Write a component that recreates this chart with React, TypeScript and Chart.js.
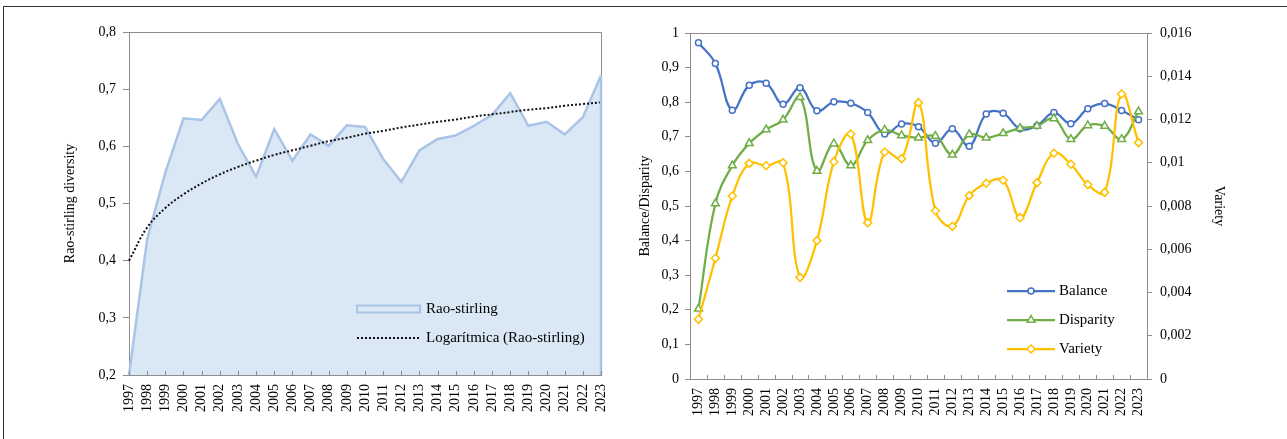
import React, { useEffect, useRef } from 'react';
import { Chart, registerables } from 'chart.js';

Chart.register(...registerables);

const years = ['1997','1998','1999','2000','2001','2002','2003','2004','2005','2006','2007','2008','2009','2010','2011','2012','2013','2014','2015','2016','2017','2018','2019','2020','2021','2022','2023'];

const raoStirling = [0.200, 0.437, 0.554, 0.649, 0.646, 0.683, 0.604, 0.547, 0.630, 0.575, 0.621, 0.601, 0.637, 0.634, 0.578, 0.538, 0.593, 0.613, 0.619, 0.636, 0.655, 0.693, 0.636, 0.643, 0.621, 0.651, 0.724];
const raoTrend = [0.400, 0.458, 0.492, 0.516, 0.535, 0.551, 0.564, 0.575, 0.585, 0.593, 0.601, 0.609, 0.615, 0.622, 0.627, 0.633, 0.638, 0.643, 0.647, 0.652, 0.656, 0.660, 0.664, 0.667, 0.671, 0.674, 0.677];

const balance = [0.972, 0.912, 0.777, 0.849, 0.855, 0.794, 0.842, 0.775, 0.801, 0.797, 0.770, 0.708, 0.737, 0.729, 0.681, 0.723, 0.673, 0.766, 0.768, 0.723, 0.732, 0.770, 0.738, 0.781, 0.796, 0.776, 0.749];
const disparity = [0.203, 0.507, 0.617, 0.681, 0.721, 0.749, 0.814, 0.601, 0.680, 0.617, 0.690, 0.720, 0.704, 0.697, 0.702, 0.648, 0.707, 0.697, 0.710, 0.725, 0.731, 0.753, 0.693, 0.733, 0.731, 0.693, 0.773];
const variety = [0.00276, 0.00558, 0.00846, 0.00997, 0.00986, 0.01000, 0.00470, 0.00640, 0.01005, 0.01133, 0.00723, 0.01050, 0.01019, 0.01278, 0.00778, 0.00706, 0.00848, 0.00905, 0.00919, 0.00746, 0.00908, 0.01044, 0.00993, 0.00899, 0.00863, 0.01318, 0.01093];

const FONT = 'Liberation Serif';
const AXIS = '#8c8c8c';
const fmt = (v: number) => String(parseFloat(Number(v).toFixed(4))).replace('.', ',');

function marker(ctx: CanvasRenderingContext2D, style: string, x: number, y: number, r: number) {
  ctx.beginPath();
  if (style === 'circle') {
    ctx.arc(x, y, r, 0, Math.PI * 2);
  } else if (style === 'triangle') {
    let rad = 0;
    ctx.moveTo(x + Math.sin(rad) * r, y - Math.cos(rad) * r);
    rad += (2 * Math.PI) / 3;
    ctx.lineTo(x + Math.sin(rad) * r, y - Math.cos(rad) * r);
    rad += (2 * Math.PI) / 3;
    ctx.lineTo(x + Math.sin(rad) * r, y - Math.cos(rad) * r);
    ctx.closePath();
  } else {
    ctx.moveTo(x, y - r);
    ctx.lineTo(x + r, y);
    ctx.lineTo(x, y + r);
    ctx.lineTo(x - r, y);
    ctx.closePath();
  }
  ctx.fillStyle = '#fff';
  ctx.fill();
  ctx.stroke();
}

const leftDecor = {
  id: 'leftDecor',
  afterDraw(chart: any) {
    const { ctx, chartArea: a } = chart;
    ctx.save();
    // right vertical edge of area
    const meta = chart.getDatasetMeta(0);
    const last = meta.data[meta.data.length - 1];
    // frame top & right
    ctx.strokeStyle = AXIS;
    ctx.lineWidth = 1;
    ctx.beginPath();
    ctx.moveTo(a.left, a.top + 0.5);
    ctx.lineTo(a.right + 0.5, a.top + 0.5);
    ctx.lineTo(a.right + 0.5, last.y);
    ctx.stroke();
    ctx.strokeStyle = '#A9C4E6';
    ctx.lineWidth = 2.5;
    ctx.beginPath();
    ctx.moveTo(last.x, last.y);
    ctx.lineTo(last.x, a.bottom);
    ctx.stroke();
    // inner x ticks
    const xs = chart.scales.x;
    ctx.strokeStyle = AXIS;
    ctx.lineWidth = 1;
    ctx.beginPath();
    for (let i = 0; i < years.length; i++) {
      const x = Math.round(xs.getPixelForValue(i)) + 0.5;
      ctx.moveTo(x, a.bottom);
      ctx.lineTo(x, a.bottom - 4);
    }
    ctx.stroke();
    // legend
    const lx = a.left + 228;
    const ly = a.top + 273.5;
    ctx.fillStyle = '#DAE8F5';
    ctx.fillRect(lx, ly, 63, 7);
    ctx.strokeStyle = '#A9C4E6';
    ctx.lineWidth = 2;
    ctx.strokeRect(lx, ly, 63, 7);
    ctx.strokeStyle = '#111';
    ctx.lineWidth = 2;
    ctx.setLineDash([2, 2]);
    ctx.beginPath();
    ctx.moveTo(lx, a.top + 306);
    ctx.lineTo(lx + 63, a.top + 306);
    ctx.stroke();
    ctx.setLineDash([]);
    ctx.fillStyle = '#000';
    ctx.font = `15px "${FONT}"`;
    ctx.textBaseline = 'middle';
    ctx.textAlign = 'left';
    ctx.fillText('Rao-stirling', a.left + 297, a.top + 277);
    ctx.fillText('Logarítmica (Rao-stirling)', a.left + 297, a.top + 306);
    ctx.restore();
  },
};

const rightDecor = {
  id: 'rightDecor',
  afterDraw(chart: any) {
    const { ctx, chartArea: a } = chart;
    ctx.save();
    ctx.strokeStyle = AXIS;
    ctx.lineWidth = 1;
    ctx.beginPath();
    ctx.moveTo(a.left, a.top + 0.5);
    ctx.lineTo(a.right, a.top + 0.5);
    const n = years.length;
    const w = (a.right - a.left) / n;
    for (let k = 1; k < n; k++) {
      const x = Math.round(a.left + k * w) + 0.5;
      ctx.moveTo(x, a.bottom);
      ctx.lineTo(x, a.bottom - 4);
    }
    ctx.stroke();
    // legend
    const items = [
      { t: 'Balance', c: '#4472C4', s: 'circle', r: 3 },
      { t: 'Disparity', c: '#70AD47', s: 'triangle', r: 4.5 },
      { t: 'Variety', c: '#FFC000', s: 'rectRot', r: 4 },
    ];
    ctx.font = `15px "${FONT}"`;
    ctx.textBaseline = 'middle';
    ctx.textAlign = 'left';
    items.forEach((it, i) => {
      const y = a.top + 258 + i * 29;
      ctx.strokeStyle = it.c;
      ctx.lineWidth = 2.25;
      ctx.beginPath();
      ctx.moveTo(a.left + 317, y);
      ctx.lineTo(a.left + 365, y);
      ctx.stroke();
      ctx.lineWidth = 1.5;
      marker(ctx, it.s, a.left + 341, y, it.r);
      ctx.fillStyle = '#000';
      ctx.fillText(it.t, a.left + 369, y);
    });
    ctx.restore();
  },
};

const tickFont = { family: FONT, size: 14 };
const titleFont = { family: FONT, size: 14 };

function LeftChart() {
  const ref = useRef<HTMLCanvasElement>(null);
  useEffect(() => {
    const chart = new Chart(ref.current as HTMLCanvasElement, {
      type: 'line',
      data: {
        labels: years,
        datasets: [
          {
            label: 'Rao-stirling',
            data: raoStirling,
            borderColor: '#A9C4E6',
            backgroundColor: '#DAE8F5',
            fill: 'start',
            borderWidth: 2.5,
            pointRadius: 0,
            tension: 0,
            order: 2,
          },
          {
            label: 'Logarítmica (Rao-stirling)',
            data: raoTrend,
            borderColor: '#111',
            borderDash: [2, 2],
            borderWidth: 2,
            pointRadius: 0,
            fill: false,
            tension: 0.4,
            order: 1,
          },
        ],
      },
      options: {
        responsive: false,
        animation: false,
        layout: { padding: { left: 58, top: 32, right: 39, bottom: 0 } },
        plugins: { legend: { display: false }, tooltip: { enabled: false } },
        scales: {
          x: {
            z: 1,
            offset: false,
            grid: { display: true, drawOnChartArea: false, drawTicks: false },
            border: { color: AXIS },
            ticks: { autoSkip: false, minRotation: 90, maxRotation: 90, padding: 9, color: '#000', font: tickFont },
            afterFit: (s: any) => { s.height = 64; },
          },
          y: {
            z: 1,
            min: 0.2,
            max: 0.8,
            grid: { drawOnChartArea: false, tickLength: 6, color: AXIS },
            border: { color: AXIS },
            ticks: { stepSize: 0.1, padding: 7, color: '#000', font: tickFont, callback: (v: any) => fmt(v) },
            title: { display: true, text: 'Rao-stirling diversity', color: '#000', font: titleFont },
            afterFit: (s: any) => { s.width = 71; },
          },
        },
      },
      plugins: [leftDecor],
    } as any);
    return () => chart.destroy();
  }, []);
  return <canvas ref={ref} width={640} height={439} style={{ position: 'absolute', left: 0, top: 0, width: 640, height: 439 }} />;
}

function RightChart() {
  const ref = useRef<HTMLCanvasElement>(null);
  useEffect(() => {
    const common = { borderWidth: 2.25, pointBorderWidth: 1.5, pointBackgroundColor: '#fff', tension: 0.4, fill: false };
    const chart = new Chart(ref.current as HTMLCanvasElement, {
      type: 'line',
      data: {
        labels: years,
        datasets: [
          { ...common, label: 'Balance', data: balance, yAxisID: 'y', borderColor: '#4472C4', pointBorderColor: '#4472C4', pointStyle: 'circle', pointRadius: 3, order: 2 },
          { ...common, label: 'Disparity', data: disparity, yAxisID: 'y', borderColor: '#70AD47', pointBorderColor: '#70AD47', pointStyle: 'triangle', pointRadius: 4.5, order: 1 },
          { ...common, label: 'Variety', data: variety, yAxisID: 'y1', borderColor: '#FFC000', pointBorderColor: '#FFC000', pointStyle: 'rectRot', pointRadius: 4, order: 0 },
        ],
      },
      options: {
        responsive: false,
        animation: false,
        layout: { padding: { left: 8, top: 33, right: 56, bottom: 0 } },
        plugins: { legend: { display: false }, tooltip: { enabled: false } },
        scales: {
          x: {
            offset: true,
            grid: { display: true, offset: true, drawOnChartArea: false, drawTicks: false },
            border: { color: AXIS },
            ticks: { autoSkip: false, minRotation: 90, maxRotation: 90, padding: 9, color: '#000', font: tickFont },
            afterFit: (s: any) => { s.height = 60; },
          },
          y: {
            position: 'left',
            min: 0,
            max: 1,
            grid: { drawOnChartArea: false, tickLength: 5, color: AXIS },
            border: { color: AXIS },
            ticks: { stepSize: 0.1, padding: 6, color: '#000', font: tickFont, callback: (v: any) => fmt(v) },
            title: { display: true, text: 'Balance/Disparity', color: '#000', font: titleFont },
            afterFit: (s: any) => { s.width = 57; },
          },
          y1: {
            position: 'right',
            min: 0,
            max: 0.016,
            grid: { drawOnChartArea: false, tickLength: 5, color: AXIS },
            border: { color: AXIS },
            ticks: { stepSize: 0.002, padding: 8, color: '#000', font: tickFont, callback: (v: any) => fmt(v) },
            title: { display: true, text: 'Variety', color: '#000', font: titleFont },
            afterFit: (s: any) => { s.width = 84; },
          },
        },
      },
      plugins: [rightDecor],
    } as any);
    return () => chart.destroy();
  }, []);
  return <canvas ref={ref} width={662} height={439} style={{ position: 'absolute', left: 625, top: 0, width: 662, height: 439 }} />;
}

export default function App() {
  return (
    <div style={{ position: 'fixed', left: 0, top: 0, width: 1287, height: 439, background: '#fff', overflow: 'hidden' }}>
      <div style={{ position: 'absolute', left: 3, top: 6, width: 1400, height: 600, borderLeft: '1px solid #333', borderTop: '1px solid #333' }} />
      <LeftChart />
      <RightChart />
    </div>
  );
}
